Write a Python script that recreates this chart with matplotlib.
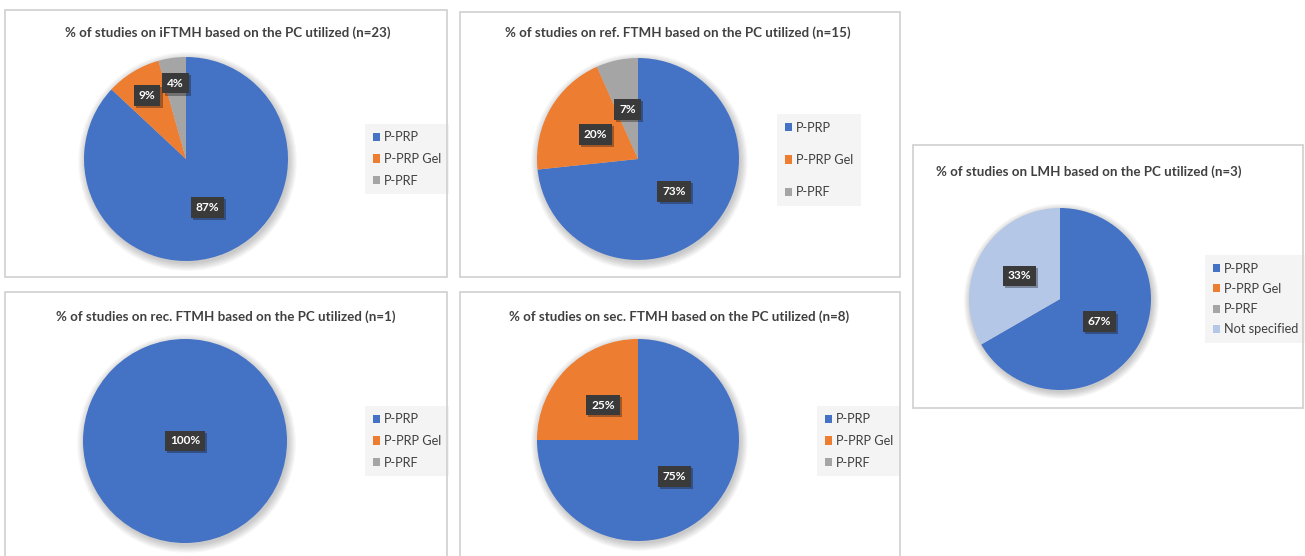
import matplotlib
matplotlib.use("Agg")
import matplotlib.pyplot as plt
from matplotlib.patches import Rectangle, Circle
import matplotlib.patheffects as pe
import numpy as np

# ---------------- data ----------------
categories3 = ["P-PRP", "P-PRP Gel", "P-PRF"]
categories4 = ["P-PRP", "P-PRP Gel", "P-PRF", "Not specified"]

titles = [
    "% of studies on iFTMH based on the PC utilized (n=23)",
    "% of studies on ref. FTMH based on the PC utilized (n=15)",
    "% of studies on LMH based on the PC utilized (n=3)",
    "% of studies on rec. FTMH based on the PC utilized (n=1)",
    "% of studies on sec. FTMH based on the PC utilized (n=8)",
]
iftmh_counts = [20, 2, 1]
ref_counts = [11, 3, 1]
lmh_counts = [2, 0, 0, 1]
rec_counts = [1, 0, 0]
sec_counts = [6, 2, 0]

colors = ["#4472C4", "#ED7D31", "#A5A5A5", "#B4C7E7"]

# ---------------- layout (pixels) ----------------
W, H = 1305, 556
fig = plt.figure(figsize=(W / 100, H / 100), dpi=100)
fig.patch.set_facecolor("white")

FONT = ["Lato", "DejaVu Sans"]
TXT = "#404040"


def fx(x):
    return x / W


def fy(y):
    return 1 - y / H


panels = [
    dict(data=iftmh_counts, cats=categories3, box=(5, 10, 447, 277), pie=(186, 159, 102),
         title=(228, 33), leg=(365, 159, 0.75), dist=[0.52, 0.73, 0.75]),
    dict(data=ref_counts, cats=categories3, box=(460, 12, 900, 277), pie=(638, 159, 101),
         title=(678, 33), leg=(777, 160, 1.6), dist=[0.48, 0.49, 0.5]),
    dict(data=lmh_counts, cats=categories4, box=(913, 145, 1303, 408), pie=(1060, 299, 91),
         title=(1089, 172), leg=(1205, 299, 0.65), dist=[0.5, 0.5, 0.5, 0.51]),
    dict(data=rec_counts, cats=categories3, box=(5, 292, 447, 600), pie=(185, 441, 102),
         title=(226, 317), leg=(365, 441, 0.75), dist=[0.0, 0.5, 0.5]),
    dict(data=sec_counts, cats=categories3, box=(460, 292, 900, 600), pie=(638, 440, 101),
         title=(679, 317), leg=(817, 441, 0.75), dist=[0.51, 0.49, 0.5]),
]

for i, p in enumerate(panels):
    x0, y0, x1, y1 = p["box"]
    fig.patches.append(Rectangle((fx(x0), fy(y1)), fx(x1 - x0), (y1 - y0) / H,
                                 transform=fig.transFigure, fill=False,
                                 edgecolor="#d0d0d0", linewidth=1.2, zorder=0))
    tx, ty = p["title"]
    fig.text(fx(tx), fy(ty), titles[i], ha="center", va="center",
             fontsize=9.6, fontweight="bold", color=TXT, family=FONT)

    cx, cy, r = p["pie"]
    ax = fig.add_axes([fx(cx - r), fy(cy + r), (2 * r) / W, (2 * r) / H])
    ax.set_xlim(-1, 1)
    ax.set_ylim(-1, 1)
    ax.axis("off")
    # soft shadow
    for k in range(7):
        ax.add_patch(Circle((0.015, -0.025), 1.0 + 0.012 * k, facecolor="black",
                            edgecolor="none", alpha=0.03, zorder=0, clip_on=False))
    vals = p["data"]
    wedges, _ = ax.pie(vals, colors=colors[:len(vals)], startangle=90,
                       counterclock=False, radius=1,
                       wedgeprops=dict(linewidth=0, edgecolor="none"))
    for w in wedges:
        w.set_zorder(2)
    ax.set_xlim(-1, 1)
    ax.set_ylim(-1, 1)
    ax.set_aspect("equal")
    total = sum(vals)
    for j, (w, v) in enumerate(zip(wedges, vals)):
        if v == 0:
            continue
        frac = v / total
        d = 0 if frac >= 0.999 else p["dist"][j]
        th = np.deg2rad((w.theta1 + w.theta2) / 2)
        t = ax.text(d * np.cos(th), d * np.sin(th), f"{round(frac * 100)}%",
                    ha="center", va="center", color="white", fontsize=8.6,
                    fontweight="bold", family=FONT, zorder=5,
                    bbox=dict(boxstyle="square,pad=0.4", facecolor="#3a3a3a",
                              edgecolor="none"))
        t.get_bbox_patch().set_path_effects(
            [pe.SimplePatchShadow(offset=(1.5, -1.5), alpha=0.35), pe.Normal()])

    lx, lyc, spacing = p["leg"]
    leg = ax.legend(wedges, p["cats"], loc="center left",
                    bbox_to_anchor=(fx(lx), fy(lyc)),
                    bbox_transform=fig.transFigure,
                    frameon=True, fancybox=False, handlelength=0.6, handleheight=0.6,
                    handletextpad=0.3, labelspacing=spacing, borderpad=0.6,
                    borderaxespad=0, prop=dict(family=FONT, size=9.2))
    fr = leg.get_frame()
    fr.set_facecolor("#f4f4f4")
    fr.set_edgecolor("none")
    fr.set_alpha(1)
    for txt in leg.get_texts():
        txt.set_color(TXT)

fig.savefig("out.png", dpi=100, facecolor="white")
